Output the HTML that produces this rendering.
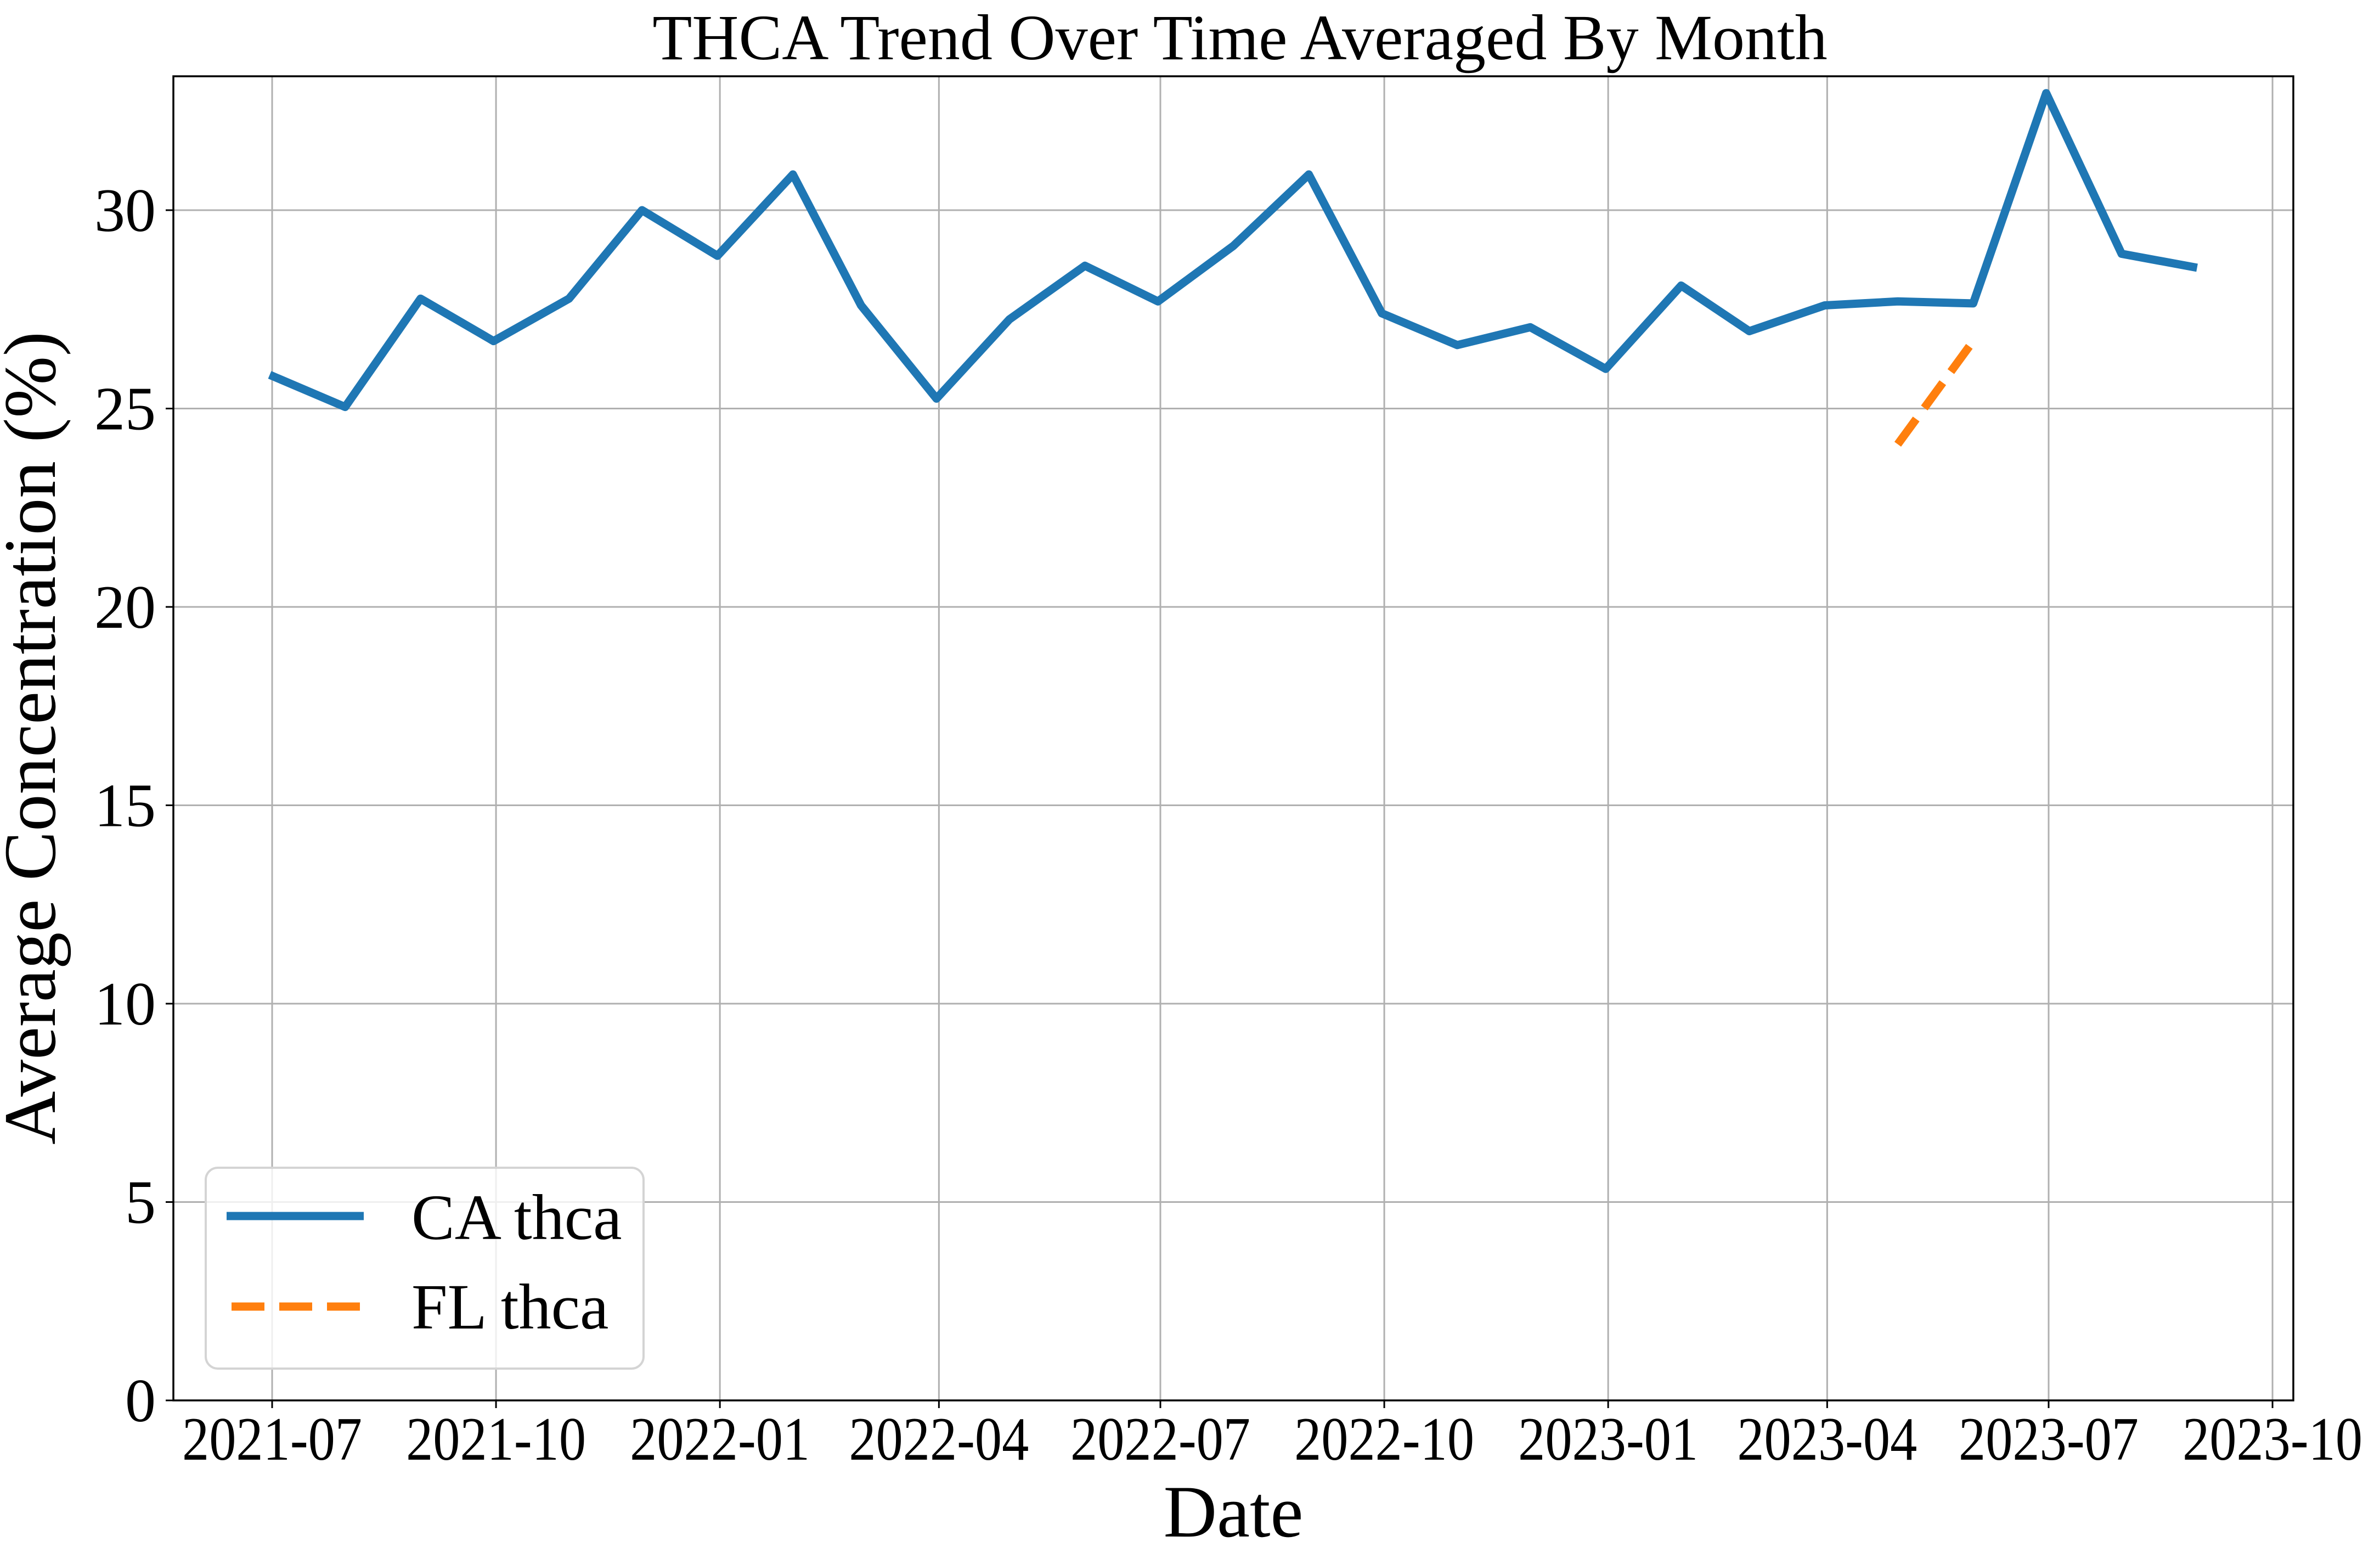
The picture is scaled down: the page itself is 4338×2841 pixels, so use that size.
<!DOCTYPE html>
<html><head><meta charset="utf-8"><style>
html,body{margin:0;padding:0;background:#fff}
svg{display:block}
text{font-family:"Liberation Serif","DejaVu Serif",serif;fill:#000}
</style></head><body>
<svg id="chart" width="4338" height="2841" viewBox="0 0 4338 2841">
<rect width="4338" height="2841" fill="#fff"/>
<g id="grid"></g>
<g id="series"></g>
<rect x="316" y="139" width="3864" height="2413" fill="none" stroke="#000" stroke-width="3.5"/>
<g id="ticks"></g>
<text x="2260" y="108" font-size="118" text-anchor="middle">THCA Trend Over Time Averaged By Month</text>
<text x="2248" y="2800" font-size="135" text-anchor="middle">Date</text>
<text transform="translate(100,1345) rotate(-90)" font-size="135" text-anchor="middle">Average Concentration (%)</text>
<g>
<rect x="375" y="2128" width="798" height="366" rx="22" fill="#fff" fill-opacity="0.8" stroke="#d4d4d4" stroke-width="4"/>
<line x1="413" y1="2216" x2="663" y2="2216" stroke="#1f77b4" stroke-width="15"/>
<text x="750" y="2258" font-size="118">CA thca</text>
<line x1="422" y1="2381" x2="663" y2="2381" stroke="#ff7f0e" stroke-width="15" stroke-dasharray="60,27"/>
<text x="750" y="2421" font-size="118">FL thca</text>
</g>
</svg>
<script>
const caDates = ["2021-06-30","2021-07-31","2021-08-31","2021-09-30","2021-10-31","2021-11-30","2021-12-31","2022-01-31","2022-02-28","2022-03-31","2022-04-30","2022-05-31","2022-06-30","2022-07-31","2022-08-31","2022-09-30","2022-10-31","2022-11-30","2022-12-31","2023-01-31","2023-02-28","2023-03-31","2023-04-30","2023-05-31","2023-06-30","2023-07-31","2023-08-31"];
const caValues = [25.85,25.04,27.77,26.7,27.77,30.0,28.85,30.9,27.6,25.25,27.25,28.6,27.7,29.1,30.9,27.4,26.6,27.05,26.0,28.1,26.95,27.6,27.7,27.65,32.95,28.9,28.55];
const flDates = ["2023-04-30","2023-05-31"];
const flValues = [24.1,26.7];
const xTickLabels = ["2021-07","2021-10","2022-01","2022-04","2022-07","2022-10","2023-01","2023-04","2023-07","2023-10"];
const yTickValues = [0,5,10,15,20,25,30];

const NS="http://www.w3.org/2000/svg";
const X0=316,X1=4180,Y0=139,Y1=2552;
const d0=Date.UTC(2021,6,1), pxDay=3238/730, xRef=496;
function x(ds){const p=ds.split("-").map(Number);const t=Date.UTC(p[0],p[1]-1,p[2]||1);return xRef+(t-d0)/86400000*pxDay;}
function y(v){return Y1-v*(Y1-383)/30;}
function mk(tag,attrs,parent){const e=document.createElementNS(NS,tag);for(const k in attrs)e.setAttribute(k,attrs[k]);parent.appendChild(e);return e;}
const grid=document.getElementById("grid"),ticks=document.getElementById("ticks"),series=document.getElementById("series");
xTickLabels.forEach(l=>{
  const xx=x(l+"-01");
  const g=mk("line",{x1:xx,x2:xx,y1:Y0,y2:Y1,stroke:"#b0b0b0","stroke-width":3},grid);
  
  
  const t=mk("line",{x1:xx,x2:xx,y1:Y1,y2:Y1+14,stroke:"#000","stroke-width":3},ticks);
  
  
  const tx=mk("text",{x:xx,y:2660,"font-size":112,"text-anchor":"middle",textLength:328,lengthAdjust:"spacingAndGlyphs"},ticks);
  tx.textContent=l;
  
  
});
yTickValues.forEach(v=>{
  const yy=y(v);
  const g=mk("line",{x1:X0,x2:X1,y1:yy,y2:yy,stroke:"#b0b0b0","stroke-width":3},grid);
  
  
  const t=mk("line",{x1:X0-14,x2:X0,y1:yy,y2:yy,stroke:"#000","stroke-width":3},ticks);
  
  
  const tx=mk("text",{x:284,y:yy+38,"font-size":112,"text-anchor":"end"},ticks);
  tx.textContent=String(v);
  
  
});
const ca=mk("polyline",{points:caDates.map((d,i)=>x(d)+","+y(caValues[i])).join(" "),fill:"none",stroke:"#1f77b4","stroke-width":15,"stroke-linejoin":"round"},series);


const fl=mk("polyline",{points:flDates.map((d,i)=>x(d)+","+y(flValues[i])).join(" "),fill:"none",stroke:"#ff7f0e","stroke-width":15,"stroke-dasharray":"57,25"},series);


</script>
</body></html>
